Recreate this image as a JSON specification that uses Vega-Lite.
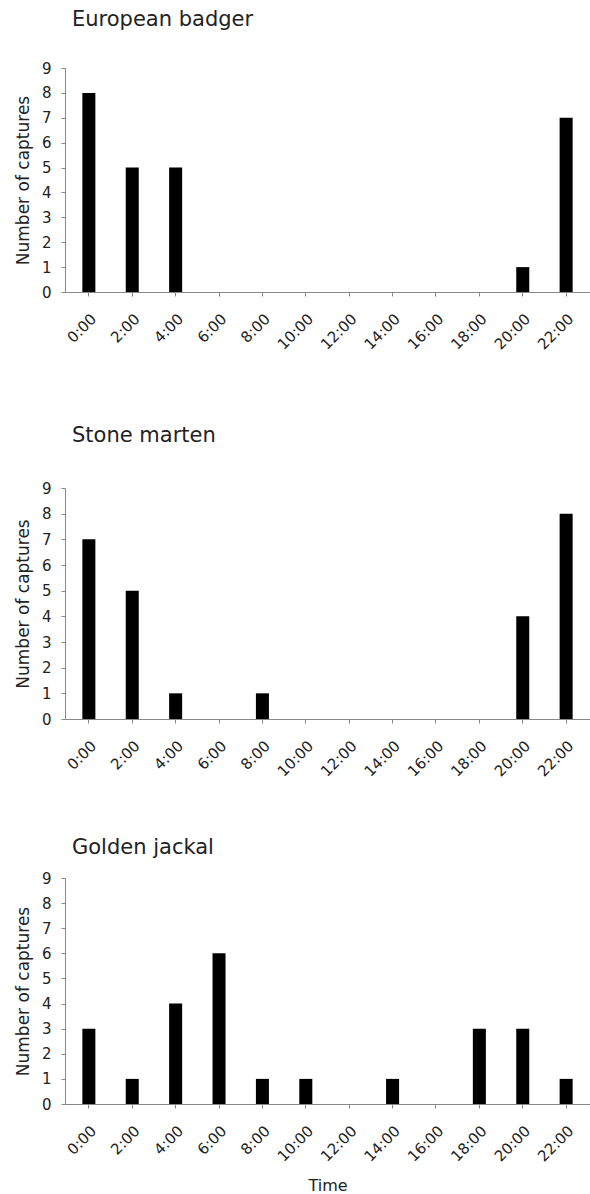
{
  "$schema": "https://vega.github.io/schema/vega-lite/v6.json",
  "background": "white",
  "padding": {"left": 14, "top": 9, "right": 0, "bottom": 0},
  "datasets": {
    "badger": [
      {"time": "0:00", "captures": 8}, {"time": "2:00", "captures": 5}, {"time": "4:00", "captures": 5},
      {"time": "6:00", "captures": 0}, {"time": "8:00", "captures": 0}, {"time": "10:00", "captures": 0},
      {"time": "12:00", "captures": 0}, {"time": "14:00", "captures": 0}, {"time": "16:00", "captures": 0},
      {"time": "18:00", "captures": 0}, {"time": "20:00", "captures": 1}, {"time": "22:00", "captures": 7}
    ],
    "marten": [
      {"time": "0:00", "captures": 7}, {"time": "2:00", "captures": 5}, {"time": "4:00", "captures": 1},
      {"time": "6:00", "captures": 0}, {"time": "8:00", "captures": 1}, {"time": "10:00", "captures": 0},
      {"time": "12:00", "captures": 0}, {"time": "14:00", "captures": 0}, {"time": "16:00", "captures": 0},
      {"time": "18:00", "captures": 0}, {"time": "20:00", "captures": 4}, {"time": "22:00", "captures": 8}
    ],
    "jackal": [
      {"time": "0:00", "captures": 3}, {"time": "2:00", "captures": 1}, {"time": "4:00", "captures": 4},
      {"time": "6:00", "captures": 6}, {"time": "8:00", "captures": 1}, {"time": "10:00", "captures": 1},
      {"time": "12:00", "captures": 0}, {"time": "14:00", "captures": 1}, {"time": "16:00", "captures": 0},
      {"time": "18:00", "captures": 3}, {"time": "20:00", "captures": 3}, {"time": "22:00", "captures": 1}
    ]
  },
  "config": {
    "view": {"stroke": null},
    "font": "DejaVu Sans",
    "title": {"anchor": "start", "frame": "group", "fontSize": 21, "fontWeight": "normal", "color": "#222", "dx": 7},
    "axis": {
      "grid": false,
      "domainColor": "#888",
      "tickColor": "#888",
      "tickSize": 4,
      "labelColor": "#222",
      "titleColor": "#222",
      "titleFontWeight": "normal"
    },
    "axisX": {"labelAngle": -45, "labelFontSize": 15, "labelPadding": 15, "titleFontSize": 16, "titlePadding": 13},
    "axisY": {"labelFontSize": 15, "labelPadding": 10, "titleFontSize": 17, "titlePadding": 9},
    "bar": {"color": "black"}
  },
  "vconcat": [
    {
      "spacing": 72,
      "vconcat": [
        {
          "title": {"text": "European badger", "offset": 31},
          "width": 525,
          "height": 224,
          "data": {"name": "badger"},
          "mark": "bar",
          "encoding": {
            "x": {"field": "time", "type": "ordinal", "sort": null,
                  "scale": {"paddingInner": 0.7, "paddingOuter": 0.4},
                  "axis": {"title": null}},
            "y": {"field": "captures", "type": "quantitative",
                  "scale": {"domain": [0, 9], "nice": false},
                  "axis": {"title": "Number of captures", "values": [0,1,2,3,4,5,6,7,8,9]}}
          }
        },
        {
          "title": {"text": "Stone marten", "offset": 35},
          "width": 525,
          "height": 231,
          "data": {"name": "marten"},
          "mark": "bar",
          "encoding": {
            "x": {"field": "time", "type": "ordinal", "sort": null,
                  "scale": {"paddingInner": 0.7, "paddingOuter": 0.4},
                  "axis": {"title": null}},
            "y": {"field": "captures", "type": "quantitative",
                  "scale": {"domain": [0, 9], "nice": false},
                  "axis": {"title": "Number of captures", "values": [0,1,2,3,4,5,6,7,8,9]}}
          }
        }
      ]
    },
    {
      "title": {"text": "Golden jackal", "offset": 13},
      "width": 525,
      "height": 226,
      "data": {"name": "jackal"},
      "mark": "bar",
      "encoding": {
        "x": {"field": "time", "type": "ordinal", "sort": null,
              "scale": {"paddingInner": 0.7, "paddingOuter": 0.4},
              "axis": {"title": "Time"}},
        "y": {"field": "captures", "type": "quantitative",
              "scale": {"domain": [0, 9], "nice": false},
              "axis": {"title": "Number of captures", "values": [0,1,2,3,4,5,6,7,8,9]}}
      }
    }
  ],
  "spacing": 57
}
